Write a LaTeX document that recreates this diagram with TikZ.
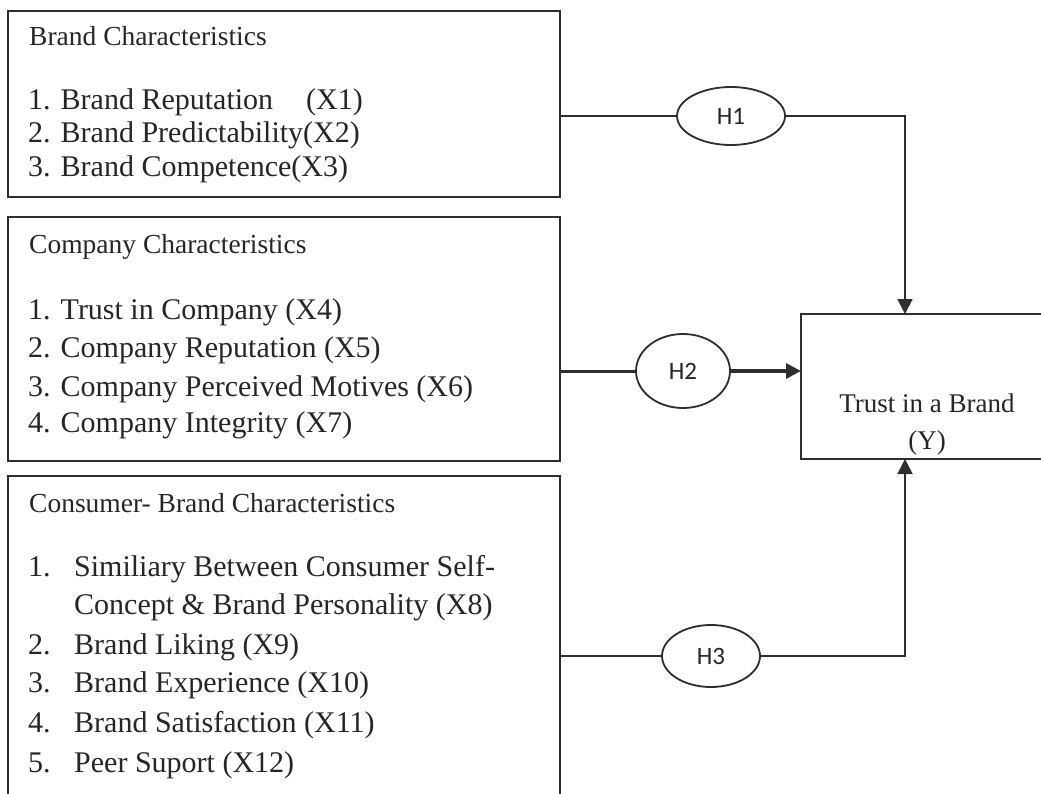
\documentclass[tikz,border=0pt]{standalone}
\usepackage{fontspec}
\setmainfont{Liberation Serif}
\newfontfamily\hfont{Carlito}
\usetikzlibrary{shapes.geometric,arrows.meta,calc}
\definecolor{linec}{HTML}{2E2E2E}
\definecolor{txt}{HTML}{262626}
\begin{document}
\begin{tikzpicture}[x=1pt,y=-1pt,
  box/.style={draw=linec, line width=1.8pt, anchor=north west, inner sep=0pt, outer sep=0pt},
  hyp/.style={draw=linec, ellipse, line width=1.8pt, inner sep=0pt, outer sep=0pt, font=\hfont\fontsize{25}{25}\selectfont, text=txt},
  ttl/.style={anchor=base west, inner sep=0pt, font=\fontsize{27.5}{30}\selectfont, text=txt},
  itm/.style={anchor=base west, inner sep=0pt, font=\fontsize{30}{33}\selectfont, text=txt},
  ytx/.style={anchor=base, inner sep=0pt, font=\fontsize{27}{30}\selectfont, text=txt},
  conn/.style={draw=linec, line width=1.8pt},
  arr/.style={conn, -{Triangle[length=15pt,width=15pt]}},
]
\useasboundingbox (0,0) rectangle (1041,794);
\clip (0,0) rectangle (1041,794);
\fill[white] (0,0) rectangle (1041,794);

% boxes
\node[box, minimum width=552pt, minimum height=186pt] (b1) at (8,11) {};
\node[box, minimum width=552pt, minimum height=244pt] (b2) at (8,217) {};
\node[box, minimum width=552pt, minimum height=360pt] (b3) at (8,476) {};
\node[box, minimum width=280pt, minimum height=145pt] (y) at (801,314) {};

% box 1 text
\node[ttl] (t1) at (29,46) {Brand Characteristics};
\node[itm] (i11) at (28,110) {1. Brand Reputation\hspace{33pt}(X1)};
\node[itm] (i12) at (28,143) {2. Brand Predictability(X2)};
\node[itm] (i13) at (28,177) {3. Brand Competence(X3)};

% box 2 text
\node[ttl] (t2) at (29,254) {Company Characteristics};
\node[itm] (i21) at (28,319) {1. Trust in Company (X4)};
\node[itm] (i22) at (28,357) {2. Company Reputation (X5)};
\node[itm] (i23) at (28,396) {3. Company Perceived Motives (X6)};
\node[itm] (i24) at (28,432) {4. Company Integrity (X7)};

% box 3 text
\node[ttl] (t3) at (29,512) {Consumer- Brand Characteristics};
\node[itm] (n31) at (28,576) {1.};
\node[itm] (i31) at (74,576) {Similiary Between Consumer Self-};
\node[itm] (i31b) at (74,614) {Concept \& Brand Personality (X8)};
\node[itm] (n32) at (28,654) {2.};
\node[itm] (i32) at (74,654) {Brand Liking (X9)};
\node[itm] (n33) at (28,692) {3.};
\node[itm] (i33) at (74,692) {Brand Experience (X10)};
\node[itm] (n34) at (28,732) {4.};
\node[itm] (i34) at (74,732) {Brand Satisfaction (X11)};
\node[itm] (n35) at (28,772) {5.};
\node[itm] (i35) at (74,772) {Peer Suport (X12)};

% Y text
\node[ytx] (y1) at (927,412) {Trust in a Brand};
\node[ytx] (y2) at (927,449) {(Y)};

% hypotheses
\node[hyp, minimum width=108pt, minimum height=58pt] (h1) at (731,116) {H1};
\node[hyp, minimum width=94pt, minimum height=74pt] (h2) at (683,371) {H2};
\node[hyp, minimum width=98pt, minimum height=62pt] (h3) at (711,656) {H3};

\coordinate (ytop) at ($(y.north west)+(104,0)$);
\coordinate (ybot) at ($(y.south west)+(104,0)$);

% connectors
\draw[conn] (b1.east |- h1.west) -- (h1.west);
\draw[arr] (h1.east) -| (ytop);
\draw[conn, line width=3pt] (b2.east |- h2.west) -- (h2.west);
\draw[arr, line width=3.2pt] (h2.east) -- (y.west |- h2.east);
\draw[conn] (b3.east |- h3.west) -- (h3.west);
\draw[arr] (h3.east) -| (ybot);
\end{tikzpicture}
\end{document}
